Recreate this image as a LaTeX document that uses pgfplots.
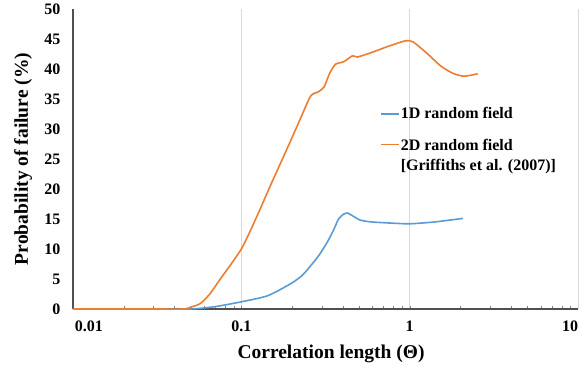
\documentclass[border=0pt]{standalone}
\usepackage{fontspec}
\setmainfont{Liberation Serif}
\usepackage{pgfplots}
\pgfplotsset{compat=1.18}
\definecolor{exorange}{RGB}{237,125,49}
\definecolor{exblue}{RGB}{91,155,213}
\definecolor{gridgray}{RGB}{217,217,217}
\definecolor{axgray}{RGB}{80,80,80}
\pgfplotsset{raisedline/.style={legend image code/.code={\draw[##1, line width=1.6bp] (0bp,11bp) -- (18bp,11bp);}}}
\begin{document}
\fontsize{16bp}{19bp}\selectfont
\begin{tikzpicture}
\begin{axis}[
  at={(0,0)}, anchor=south west,
  scale only axis, width=505bp, height=300bp,
  xmode=log, xmin=0.01, xmax=10,
  ymin=0, ymax=50,
  axis x line*=bottom, axis y line*=left,
  axis line style={axgray, line width=1.6bp, -},
  xtick={0.01,0.1,1,10},
  xticklabels={\makebox[0pt][l]{\hspace{2bp}0.01},0.1,1,\makebox[0pt][r]{10}},
  ytick={0,5,...,50},
  major tick length=0pt,
  xmajorgrids, grid style={gridgray, line width=0.8bp},
  /pgf/number format/assume math mode=true,
  tick label style={font=\fontsize{16bp}{19bp}\selectfont\bfseries},
  xticklabel style={yshift=-6bp},
  yticklabel style={xshift=-7bp},
  xlabel={Correlation length (Θ)},
  ylabel={Probability of failure (\%)},
  every axis x label/.style={at={(axis description cs:0.511,0)}, anchor=base, yshift=-49bp,
    font=\fontsize{19.5bp}{23bp}\selectfont\bfseries},
  every axis y label/.style={at={(axis description cs:-0.099,0.5)}, rotate=90, anchor=center,
    font=\fontsize{19.5bp}{23bp}\selectfont\bfseries},
  clip=false,
  legend style={at={(axis description cs:0.608,0.677)}, anchor=north west, draw=none, fill=none,
    row sep=16bp, inner sep=0pt,
    nodes={inner sep=1bp, font=\fontsize{16bp}{20bp}\selectfont\bfseries, align=left}},
  legend cell align=left,
  legend image code/.code={\draw[#1, line width=1.6bp] (0bp,0bp) -- (18bp,0bp);},
]
\addplot[exblue, line width=1.6bp, smooth, tension=0.4] coordinates {
(0.01,0) (0.03,0) (0.05,0) (0.07,0.4) (0.1,1.2) (0.143,2.2) (0.196,4.2) (0.23,5.6)
(0.258,7.2) (0.29,9) (0.325,11.2) (0.355,13.3) (0.378,15) (0.405,15.8) (0.427,16)
(0.46,15.5) (0.51,14.8) (0.6,14.5) (0.8,14.3) (1.0,14.2) (1.4,14.5) (2.07,15.1)
};
\addlegendentry{1D random field}
\addplot[exorange, line width=1.6bp, smooth, tension=0.4, raisedline] coordinates {
(0.01,0) (0.03,0) (0.045,0) (0.05,0.3) (0.057,0.9) (0.065,2.5) (0.075,5) (0.086,7.3)
(0.1,10) (0.113,13) (0.130,16.8) (0.149,20.6) (0.171,24.3) (0.196,28) (0.225,31.8)
(0.258,35.5) (0.287,36.2) (0.31,37) (0.335,39.3) (0.363,40.8) (0.405,41.2) (0.458,42.2)
(0.49,42) (0.6,42.8) (0.75,43.8) (0.946,44.7) (1.05,44.5) (1.28,42.5) (1.53,40.5)
(1.8,39.3) (2.1,38.8) (2.54,39.2)
};
\addlegendentry{2D random field\\{[Griffiths et al. (2007)]}}
\end{axis}
\pgfresetboundingbox
\path[use as bounding box] (-73bp,-56bp) rectangle (510bp,309bp);
\end{tikzpicture}
\end{document}
